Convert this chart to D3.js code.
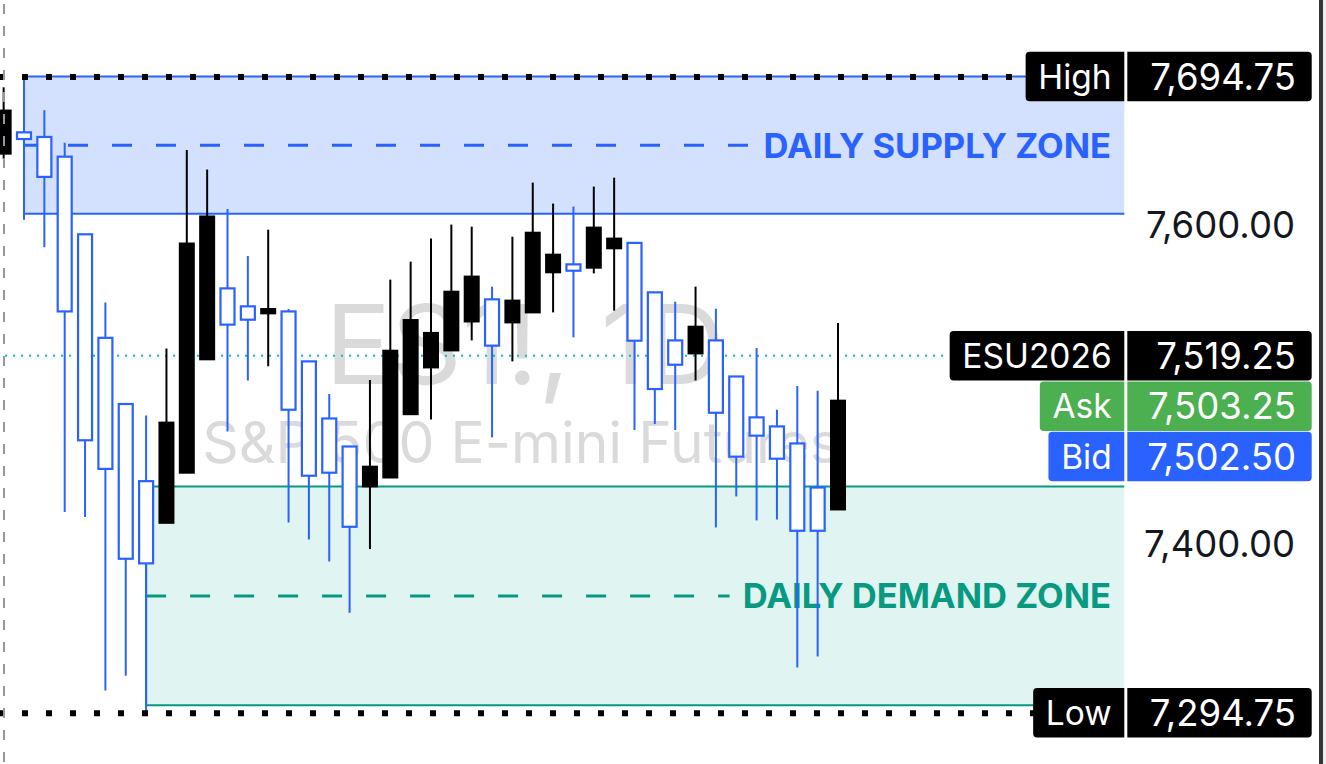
<!DOCTYPE html>
<html><head><meta charset="utf-8">
<script src="https://cdn.jsdelivr.net/npm/d3@7/dist/d3.min.js"></script>
<style>html,body{margin:0;padding:0;background:#fff;overflow:hidden}svg{display:block}</style>
</head><body><svg id="c" width="1326" height="764"></svg>
<script>
// ---- data ----
const firstIndex = -1;
const opens  = [7673.4,7655.5,7631.7,7547.1,7466.1,7448.1,7391.6,7388.7,7477.2,7589.8,7606.8,7538.8,7541.9,7548.6,7485.3,7443.8,7445.7,7411.7,7449.5,7522.4,7541.7,7533.6,7559.5,7569.0,7525.6,7553.9,7596.6,7582.8,7572.7,7599.8,7592.9,7528.7,7498.3,7513.6,7537.5,7483.4,7455.8,7469.0,7454.5,7409.2,7409.2,7491.0];
const highs  = [7688.0,7694.75,7673.6,7653.1,7595.6,7552.7,7488.9,7481.7,7523.8,7648.6,7636.3,7611.5,7582.0,7598.5,7548.6,7515.7,7495.2,7462.2,7504.0,7567.1,7578.4,7592.9,7601.7,7600.4,7562.7,7594.1,7628.1,7614.9,7613.0,7625.6,7631.2,7590.2,7559.1,7553.2,7562.7,7548.8,7506.2,7524.1,7485.3,7500.2,7497.3,7539.8];
const lows   = [7643.0,7604.8,7587.5,7421.0,7417.9,7308.7,7318.0,7294.75,7414.2,7445.7,7517.0,7471.6,7503.7,7512.6,7414.4,7403.7,7389.9,7357.6,7397.7,7442.7,7482.5,7479.2,7522.6,7528.9,7467.9,7515.7,7546.5,7546.5,7530.8,7571.0,7547.6,7472.5,7476.3,7472.5,7503.7,7411.3,7430.8,7415.7,7416.3,7323.2,7330.1,7422.6];
const closes = [7646.3,7659.7,7656.8,7644.4,7595.6,7530.5,7488.9,7440.4,7414.2,7445.7,7517.0,7561.6,7550.3,7545.9,7547.1,7515.7,7479.8,7462.2,7437.1,7442.7,7482.5,7511.9,7522.6,7540.8,7554.7,7540.2,7546.5,7571.7,7576.7,7574.6,7586.8,7590.2,7559.1,7528.9,7520.7,7528.9,7506.2,7480.5,7474.8,7464.1,7436.4,7422.6];
const yTicks = [7600, 7400];
const highValue = 7694.75, lowValue = 7294.75;
const symbol = "ESU2026";
const lastPrice = 7519.25, askPrice = 7503.25, bidPrice = 7502.50;
const supplyZone = [7608.5, 7694.75], supplyStart = 0;
const demandZone = [7299.5, 7437.0], demandStart = 6;
const supplyText = "DAILY SUPPLY ZONE", demandText = "DAILY DEMAND ZONE";
const watermark = ["ES1!, 1D", "S&P 500 E-mini Futures"];

// ---- layout ----
const W = 1326, H = 764, plotRight = 1125, axisLeft = 1127.3, axisRight = 1311.7;
const BLUE = "#2962ff", TEAL = "#089981", GREEN = "#4caf50";
const FONT = "Inter, 'Noto Sans', sans-serif";
const candles = opens.map((o,k)=>({i:k+firstIndex,o,h:highs[k],l:lows[k],c:closes[k]}));
const x = d3.scaleLinear().domain([0,40]).range([24,838]);
const y = d3.scaleLinear().domain([lowValue, highValue]).range([712.8, 76.6]);
const svg = d3.select("#c");
const fmt = d3.format(",.2f");

// watermark
const wm = svg.append("g").attr("fill","#dadada").attr("font-family",FONT).attr("text-anchor","middle");
wm.append("text").attr("x",525).attr("y",384).attr("font-size",110).text(watermark[0]);
wm.append("text").attr("x",521).attr("y",463).attr("font-size",57).text(watermark[1]);

// zones
function zone(z, start, color, fill, label){
  const g = svg.append("g");
  const x0 = x(start), yT = y(z[1]), yB = y(z[0]);
  g.append("rect").attr("x",x0).attr("y",yT).attr("width",plotRight-x0).attr("height",yB-yT).attr("fill",fill);
  g.append("line").attr("x1",x0).attr("x2",plotRight).attr("y1",yT).attr("y2",yT).attr("stroke",color).attr("stroke-width",2);
  g.append("line").attr("x1",x0).attr("x2",plotRight).attr("y1",yB).attr("y2",yB).attr("stroke",color).attr("stroke-width",2);
  g.append("line").attr("x1",x0).attr("x2",x0).attr("y1",yT).attr("y2",yB).attr("stroke",color).attr("stroke-width",2);
  const ym = y((z[0]+z[1])/2);
  const t = g.append("text").attr("x",1111).attr("y",ym).attr("dy","0.36em").attr("text-anchor","end")
    .attr("font-family",FONT).attr("font-weight",700).attr("font-size",34.6).attr("fill",color).text(label);
  const w = t.node().getComputedTextLength();
  g.append("line").attr("x1",x0).attr("x2",1111-w-13).attr("y1",ym).attr("y2",ym)
    .attr("stroke",color).attr("stroke-width",3).attr("stroke-dasharray","20 24");
}
zone(supplyZone, supplyStart, BLUE, "#d3e0fe", supplyText);
zone(demandZone, demandStart, TEAL, "#e0f4f2", demandText);

// last price line
svg.append("line").attr("x1",5).attr("x2",948).attr("y1",y(lastPrice)).attr("y2",y(lastPrice))
  .attr("stroke","#00bcd4").attr("stroke-width",2).attr("stroke-dasharray","2 6");

// candles
const cg = svg.append("g");
candles.forEach(d=>{
  const up = d.c >= d.o, cx = x(d.i);
  const top = y(Math.max(d.o,d.c)), bot = y(Math.min(d.o,d.c));
  const col = up ? BLUE : "#000";
  cg.append("line").attr("x1",cx).attr("x2",cx).attr("y1",y(d.h)).attr("y2",y(d.l)).attr("stroke",col).attr("stroke-width",2);
  if(up){
    cg.append("rect").attr("x",cx-7).attr("y",top).attr("width",14).attr("height",Math.max(bot-top,1))
      .attr("fill","#fff").attr("stroke",BLUE).attr("stroke-width",2.2);
  } else {
    cg.append("rect").attr("x",cx-8).attr("y",top-1).attr("width",16).attr("height",Math.max(bot-top+2,3)).attr("fill","#000");
  }
});

// high / low dotted lines
[[highValue,1027.3],[lowValue,1036.7]].forEach(([v,xe])=>{
  svg.append("line").attr("x1",-2).attr("x2",xe).attr("y1",y(v)+0.5).attr("y2",y(v)+0.5)
    .attr("stroke","#000").attr("stroke-width",6).attr("stroke-dasharray","6 18");
});

// left dashed vertical
svg.append("line").attr("x1",4).attr("x2",4).attr("y1",4).attr("y2",H).attr("stroke","#9598a1")
  .attr("stroke-width",2).attr("stroke-dasharray","10 12");

// axis tick labels
svg.append("g").selectAll("text").data(yTicks).join("text")
  .attr("x",1295).attr("y",d=>y(d)-2).attr("dy","0.36em").attr("text-anchor","end")
  .attr("font-family",FONT).attr("font-size",36.5).attr("fill","#131722").text(d=>fmt(d));

// price labels
const labels = [
  {t:"High", v:highValue, bg:"#000"},
  {t:symbol, v:lastPrice, bg:"#000"},
  {t:"Ask", v:askPrice, bg:GREEN},
  {t:"Bid", v:bidPrice, bg:BLUE},
  {t:"Low", v:lowValue, bg:"#000"}
];
const boxH = 49.5, pitch = 50.4;
let prev = -1e9;
labels.forEach(l=>{ let cy = y(l.v); if(cy < prev+pitch) cy = prev+pitch; l.cy = cy; prev = cy; });
const lg = svg.append("g").attr("font-family",FONT).attr("fill","#fff");
labels.forEach(l=>{
  const g = lg.append("g");
  const r = g.append("rect").attr("y",l.cy-boxH/2).attr("height",boxH).attr("rx",4).attr("fill",l.bg);
  const t1 = g.append("text").attr("x",1111.7).attr("y",l.cy).attr("dy","0.36em").attr("text-anchor","end")
    .attr("font-size",33.5).text(l.t);
  g.append("text").attr("x",1296).attr("y",l.cy).attr("dy","0.36em").attr("text-anchor","end")
    .attr("font-size",36.5).text(fmt(l.v));
  const w = t1.node().getComputedTextLength();
  const xl = 1111.7 - w - 12.7;
  r.attr("x",xl).attr("width",axisRight-xl);
});

// separator & right border
svg.append("rect").attr("x",plotRight-0.7).attr("y",0).attr("width",axisLeft-plotRight+0.7).attr("height",H).attr("fill","#fff");
svg.append("rect").attr("x",1319).attr("y",0).attr("width",4).attr("height",H).attr("fill","#363636");
svg.append("rect").attr("x",1323).attr("y",0).attr("width",3).attr("height",H).attr("fill","#ededed");
</script></body></html>
